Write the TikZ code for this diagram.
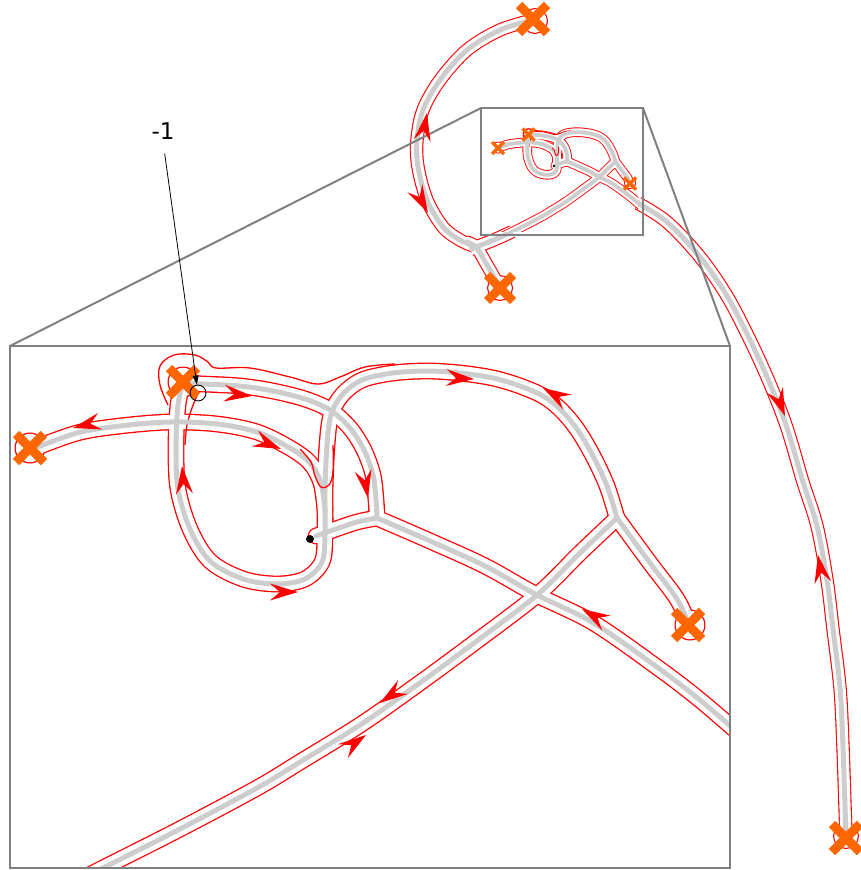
\documentclass[tikz,border=0pt]{standalone}
\usepackage{fontspec}
\usetikzlibrary{arrows.meta}
\newfontfamily\labfont{DejaVu Sans}
\definecolor{trackgray}{RGB}{205,205,205}
\definecolor{xorange}{RGB}{255,102,0}
\definecolor{boxgray}{RGB}{128,128,128}
\tikzset{
  bigred/.style={draw=red,line width=16.8pt,line cap=round,line join=round},
  bigwhite/.style={draw=white,line width=14.2pt,line cap=round,line join=round},
  biggray/.style={draw=trackgray,line width=5pt,line cap=round,line join=round},
  smred/.style={draw=red,line width=9.6pt,line cap=round,line join=round},
  smwhite/.style={draw=white,line width=7.8pt,line cap=round,line join=round},
  smgray/.style={draw=trackgray,line width=3.8pt,line cap=round,line join=round},
  outred/.style={draw=red,line width=13.4pt,line cap=butt,line join=round},
  outwhite/.style={draw=white,line width=11.2pt,line cap=butt,line join=round},
  outgray/.style={draw=trackgray,line width=5pt,line cap=butt,line join=round},
  thinred/.style={draw=red,line width=1.3pt},
  boxline/.style={draw=boxgray,line width=2pt},
}
\newcommand\insetpaths[1]{%
 \draw[#1] plot[smooth,tension=0.55] coordinates {(30,450) (77,433) (120,426) (170,422) (217,424) (257,432) (290,448) (310,463) (321,483) (325,510)};
 \draw[#1] plot[smooth,tension=0.55] coordinates {(617,518) (607,486) (593,456) (577,429) (560,409) (543,396) (520,386) (493,378) (460,373) (427,371) (393,373) (362,380) (342,395) (331,415) (327,445) (325,490) (325,535) (322,562) (305,579) (277,584) (243,579) (210,561) (190,529) (178,489) (176,446) (178,405) (183,383)};
 \draw[#1] plot[smooth,tension=0.55] coordinates {(183,383) (203,384) (240,386) (273,391) (305,399) (330,410) (350,428) (364,450) (373,475) (376,500) (377,518)};
 \draw[#1] plot[smooth,tension=0.55] coordinates {(377,518) (357,522) (333,530) (316,536)};
 \draw[#1] plot[smooth,tension=0.55] coordinates {(377,518) (430,541) (485,566) (537,595) (592,622) (650,662) (700,700) (760,752)};
 \draw[#1] plot[smooth,tension=0.55] coordinates {(617,518) (650,563) (677,599) (688,623)};
 \draw[#1] plot[smooth,tension=0.55] coordinates {(617,518) (580,553) (537,595) (470,646) (410,690) (360,725) (300,762) (257,788) (180,829) (103,868) (40,900)};
}
\newcommand\insetbulbs[2]{%
 \fill[#1] (30,448) circle (#2);
 \fill[#1] (183,382) circle (#2);
 \fill[#1] (690,625) circle (#2);
}
\newcommand\insetextra[1]{%
 \draw[#1] plot[smooth,tension=0.6] coordinates {(168,405) (160,385) (160,366) (174,355) (195,355) (208,362) (216,368) (250,368) (290,377) (318,384) (340,377) (365,367) (395,364)};
 \draw[#1] plot[smooth,tension=0.6] coordinates {(198,393) (192,408) (187,425) (185,445)};
}
\newcommand\insetu[1]{%
 \draw[#1] plot[smooth,tension=0.6] coordinates {(300,449) (311,462) (315,476) (321,487) (329,485) (333,472) (333,445)};
}
\newcommand\outerpaths[1]{%
 \draw[#1] plot[smooth,tension=0.55] coordinates {(533,20) (500,30) (467,50) (440,80) (423,110) (417,140) (418,167) (427,200) (443,227) (460,240) (476,247)};
 \draw[#1] plot[smooth,tension=0.55] coordinates {(466,242) (476,247) (487,265) (500,288)};
 \draw[#1] plot[smooth,tension=0.55] coordinates {(470,250) (476,247) (495,239.5) (512.2,231.6)};
 \draw[#1] plot[smooth,tension=0.55] coordinates {(638,203.3) (667,222) (700,257) (727,296) (750,340) (770,384) (787,428) (803,482) (817,526) (827,580) (833,629) (840,688) (843,747) (846,838)};
}
\newcommand\outerbulbs[2]{%
 \fill[#1] (535,21) circle (#2);
 \fill[#1] (500,288) circle (#2);
 \fill[#1] (846,836) circle (#2);
}
\newcommand\xmk[4]{\draw[draw=xorange,line width=#4pt,line cap=butt] (#1-#3,#2-#3) -- (#1+#3,#2+#3) (#1-#3,#2+#3) -- (#1+#3,#2-#3);}
\newcommand\rarr[3]{\fill[red,shift={(#1,#2)},rotate=#3] (0,0) -- (-28,8.5) -- (-18,0) -- (-28,-8.5) -- cycle;}
\begin{document}
\begin{tikzpicture}[x=1pt,y=-1pt]
\useasboundingbox (0,0) rectangle (861,870);
% ---------- outer tracks
\outerpaths{outred}
\outerbulbs{red}{13}
\outerpaths{outwhite}
\outerbulbs{white}{11.8}
\outerpaths{outgray}
% ---------- small view
\begin{scope}
 \clip (494,127.2) rectangle (638,231.6);
 \begin{scope}[shift={(492,58)},scale=0.2]
  \insetpaths{smred}
  \insetbulbs{red}{30}
  \insetpaths{smwhite}
  \insetbulbs{white}{26}
  \insetextra{draw=red,line width=0.9pt}
  \insetpaths{smgray}
  \insetu{draw=red,line width=0.9pt}
 \end{scope}
\end{scope}
\fill (554,166) circle (1.3);
\xmk{498}{148}{6}{3.5}
\xmk{528.6}{134.6}{6}{3.5}
\xmk{630}{183.5}{6}{3.5}
% ---------- big view
\begin{scope}
 \clip (10,346) rectangle (730,868);
 \insetpaths{bigred}
 \insetbulbs{red}{15.5}
 \insetpaths{bigwhite}
 \insetbulbs{white}{14.2}
 \insetextra{thinred}
 \insetpaths{biggray}
 \insetu{thinred}
 \rarr{73}{428}{194}
 \rarr{252}{396}{-6}
 \rarr{281}{449}{-22}
 \rarr{182}{466}{95}
 \rarr{298}{592}{0}
 \rarr{368}{498}{-80}
 \rarr{474}{379}{-3}
 \rarr{543}{388}{150}
 \rarr{582}{609}{150}
 \rarr{380}{703}{215}
 \rarr{366}{735}{35}
 \xmk{30}{448}{14}{9}
 \xmk{183}{382}{14}{9}
 \xmk{688}{625}{14}{9}
 \fill (310,539) circle (4);
\end{scope}
% ---------- boxes and spy lines
\draw[boxline] (481,108) rectangle (643,235);
\draw[boxline] (10,346) rectangle (730,868);
\draw[boxline] (481,108) -- (10,346);
\draw[boxline] (643,108) -- (730,346);
% ---------- outer arrows and crosses
\rarr{427}{113}{80}
\rarr{428}{213}{-62}
\rarr{785}{416}{-69}
\rarr{818}{555}{100}
\xmk{533}{19}{14}{9}
\xmk{500}{288}{13}{8.5}
\xmk{846}{838}{14}{9}
% ---------- label
\node[circle,draw=black,line width=0.9pt,minimum size=16pt,inner sep=0pt] (circ) at (198,393) {};
\node[font=\labfont\fontsize{23}{26}\selectfont,inner sep=2pt] (lab) at (163,131) {-1};
\draw[black,line width=0.8pt,-{Triangle[length=9pt,width=6pt]},shorten <=12pt] (lab.south) -- (circ);
\end{tikzpicture}
\end{document}
